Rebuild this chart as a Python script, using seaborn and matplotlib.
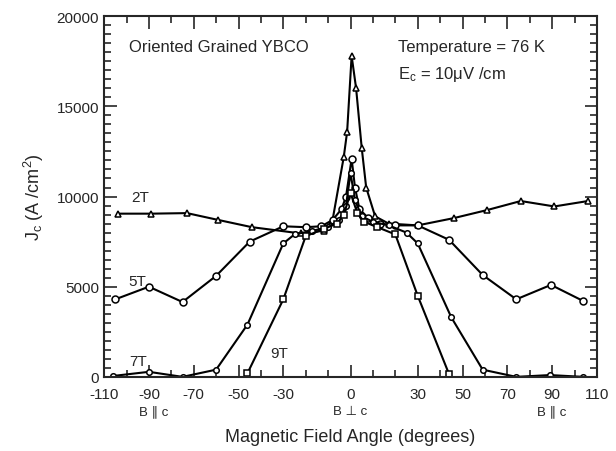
import numpy as np
import pandas as pd
import matplotlib
matplotlib.use("Agg")
import matplotlib.pyplot as plt
import seaborn as sns
from matplotlib.ticker import MultipleLocator, FixedLocator

# angle (deg) and Jc (A/cm^2)
angle_2t = [-104, -89, -73, -59, -44, -22, -12, -8, -3, -1.5, 0.5, 2.5, 5, 7, 11, 17, 30, 46, 61, 76, 91, 106]
jc_2t = [9050, 9050, 9080, 8700, 8300, 7950, 8100, 8700, 12200, 13600, 17800, 16000, 12700, 10500, 8900, 8500, 8400, 8800, 9250, 9750, 9450, 9750]

angle_5t = [-105, -90, -75, -60, -45, -30, -20, -13, -8, -4, -2, 0.5, 2, 4, 8, 13, 20, 30, 44, 59, 74, 89.5, 104]
jc_5t = [4300, 5000, 4150, 5600, 7500, 8350, 8300, 8350, 8700, 9300, 10000, 12100, 10500, 9300, 8800, 8500, 8400, 8400, 7600, 5650, 4300, 5100, 4200]

angle_7t = [-106, -90, -75, -60, -46, -30, -25, -17, -10, -5, -2, 0, 2, 5, 10, 17, 25, 30, 45, 59, 74, 89, 104]
jc_7t = [50, 280, 0, 400, 2900, 7400, 7900, 8100, 8300, 8700, 9500, 11300, 9800, 8900, 8600, 8400, 8000, 7400, 3300, 400, 0, 100, 0]

angle_9t = [-46, -30, -20, -12, -6, -3, 0, 3, 6, 12, 20, 30, 44]
jc_9t = [200, 4300, 7800, 8200, 8500, 9000, 10200, 9100, 8600, 8300, 7900, 4500, 150]

xtick_vals = [-110, -90, -70, -50, -30, 0, 30, 50, 70, 90, 110]

sns.set_style("ticks")
plt.rcParams['font.family'] = ['Liberation Sans', 'DejaVu Sans']
plt.rcParams['axes.unicode_minus'] = False
plt.rcParams['mathtext.default'] = 'regular'

fig = plt.figure(figsize=(6.16, 4.52), dpi=100)
ax = fig.add_axes([0.169, 0.164, 0.8, 0.798])

series = [
    (angle_2t, jc_2t, "^", 5),
    (angle_5t, jc_5t, "o", 5),
    (angle_7t, jc_7t, "o", 4),
    (angle_9t, jc_9t, "s", 4.5),
]
for xs, ys, mk, ms in series:
    df = pd.DataFrame({"angle": xs, "jc": ys})
    sns.lineplot(data=df, x="angle", y="jc", ax=ax, color="black", lw=1.5,
                 marker=mk, markersize=ms, markerfacecolor="white",
                 markeredgecolor="black", markeredgewidth=1.1, sort=False)

ax.set_xlim(-110, 110)
ax.set_ylim(0, 20000)
ax.xaxis.set_major_locator(FixedLocator(xtick_vals))
ax.xaxis.set_minor_locator(MultipleLocator(10))
ax.yaxis.set_major_locator(MultipleLocator(5000))
ax.yaxis.set_minor_locator(MultipleLocator(500))
ax.tick_params(which="both", direction="in", top=True, right=True, labelsize=11, width=1.2)
ax.tick_params(which="major", length=9)
ax.tick_params(which="minor", length=5)
ax.tick_params(axis="x", pad=7)
for s in ax.spines.values():
    s.set_linewidth(1.5)

ax.set_xlabel("Magnetic Field Angle (degrees)", fontsize=13, labelpad=20)
ax.set_ylabel(r"J$_c$ (A /cm$^2$)", fontsize=13, labelpad=8)

ax.text(-99, 18300, "Oriented Grained YBCO", fontsize=12, va="center")
ax.text(21, 18300, "Temperature = 76 K", fontsize=12, va="center")
ax.text(21, 16800, "E$_c$ = 10\u03bcV /cm", fontsize=12, va="center")

ax.text(-94, 10000, "2T", fontsize=11, ha="center", va="center")
ax.text(-95, 5300, "5T", fontsize=11, ha="center", va="center")
ax.text(-95, 900, "7T", fontsize=11, ha="center", va="center")
ax.text(-32, 1300, "9T", fontsize=11, ha="center", va="center")

for xv, lab in [(-88, "B \u2225 c"), (0, "B \u22a5 c"), (90, "B \u2225 c")]:
    ax.text(xv, -1900, lab, fontsize=9.5, ha="center", va="center")

fig.savefig("out.png", dpi=100)
